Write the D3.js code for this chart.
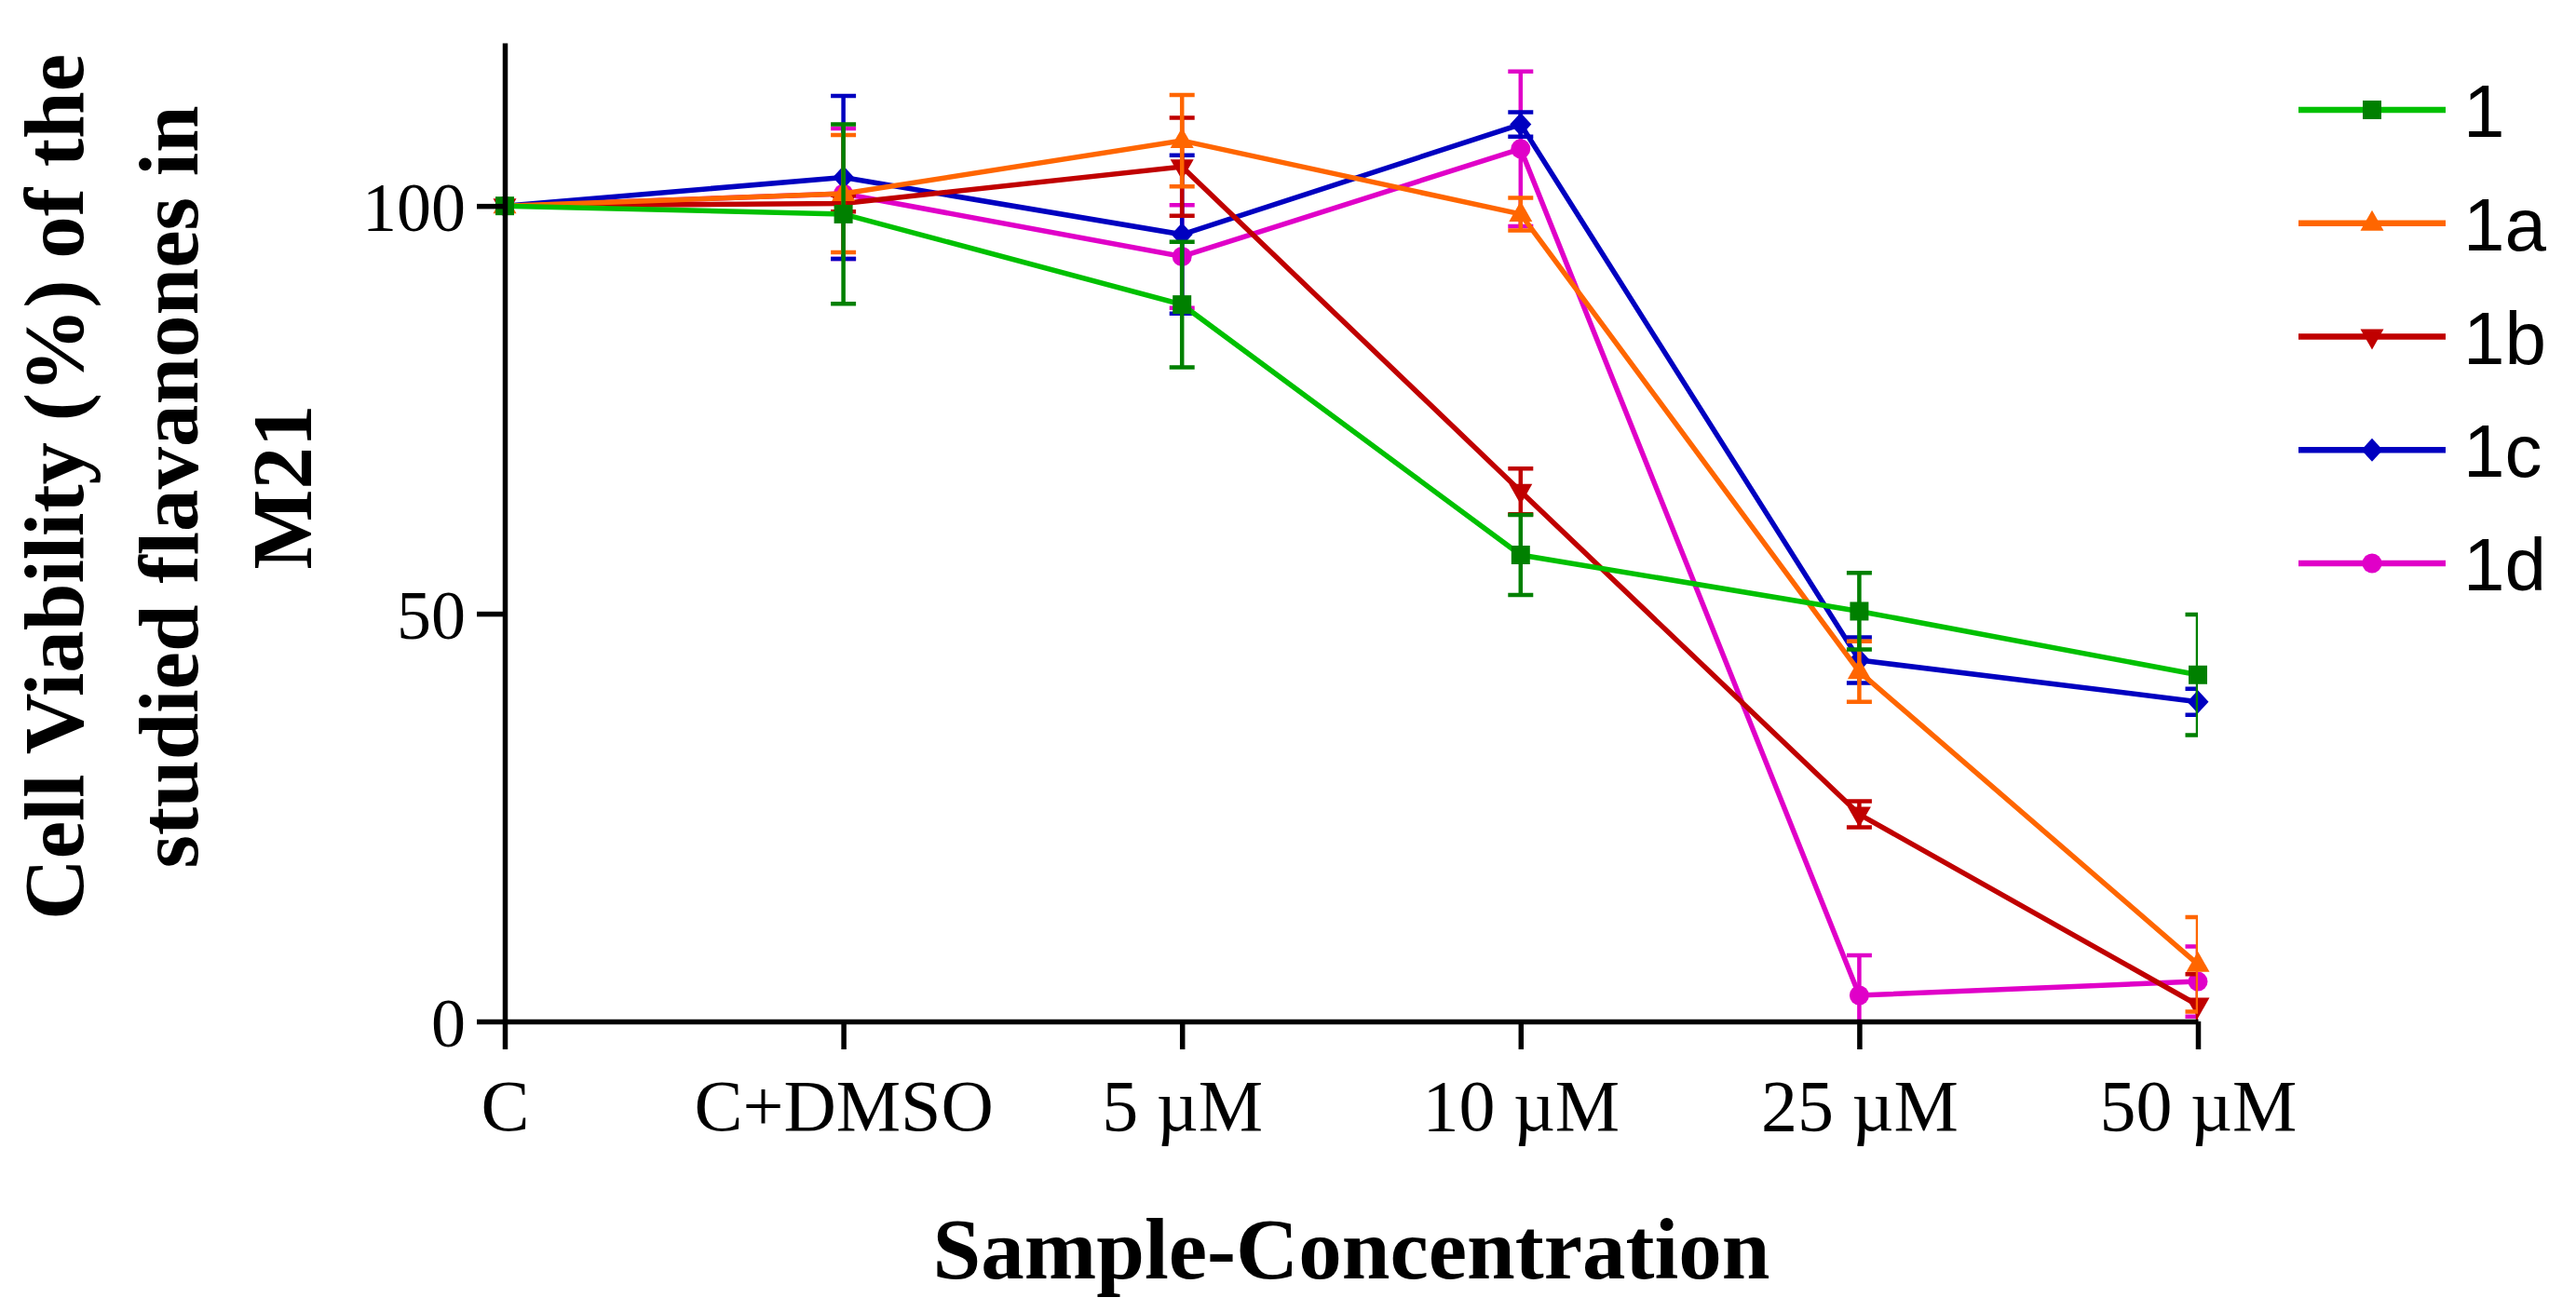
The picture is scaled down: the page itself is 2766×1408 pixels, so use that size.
<!DOCTYPE html>
<html>
<head>
<meta charset="utf-8">
<script src="https://cdn.jsdelivr.net/npm/d3@7"></script>
<style>
  html, body { margin: 0; padding: 0; background: #fff; }
  svg { display: block; }
</style>
</head>
<body>
<svg id="chart" width="2766" height="1408"></svg>
<script>
// ---------- data ----------
const categories = ["C", "C+DMSO", "5 µM", "10 µM", "25 µM", "50 µM"];
const seriesNames = ["1", "1a", "1b", "1c", "1d"];

const values1  = [100, 99.0, 87.9, 57.2, 50.3, 42.5];
const errors1  = [0, 11.0, 7.7, 4.9, 4.7, 7.4];
const values1a = [100, 101.5, 108.0, 99.0, 42.9, 7.0];
const errors1a = [0, 7.2, 5.6, 2.0, 3.7, 5.8];
const values1b = [100, 100.3, 104.8, 65.0, 25.4, 2.0];
const errors1b = [0, 1.0, 6.0, 2.8, 1.6, 3.8];
const values1c = [100, 103.5, 96.5, 110.0, 44.3, 39.2];
const errors1c = [0, 10.0, 9.7, 1.5, 2.8, 1.6];
const values1d = [100, 101.5, 93.8, 107.0, 3.2, 4.9];
const errors1d = [0, 8.0, 6.3, 9.5, 4.9, 4.3];

const yTicks = [0, 50, 100];
const yTitleLines = ["Cell Viability (%) of the", "studied flavanones in", "M21"];
const xTitle = "Sample-Concentration";

// ---------- styles ----------
const lineColors   = ["#00C000", "#FF6600", "#C00000", "#0000C0", "#E000C8"];
const markerColors = ["#008000", "#FF6600", "#C00000", "#0000C0", "#E000C8"];
const markerShapes = ["square", "triUp", "triDown", "diamond", "circle"];

const allValues = [values1, values1a, values1b, values1c, values1d];
const allErrors = [errors1, errors1a, errors1b, errors1c, errors1d];

const series = seriesNames.map((name, i) => ({
  name,
  lineColor: lineColors[i],
  markerColor: markerColors[i],
  shape: markerShapes[i],
  points: categories.map((c, j) => ({ cat: c, v: allValues[i][j], e: allErrors[i][j] }))
}));

function markerPath(shape) {
  switch (shape) {
    case "square":  return "M-10,-10H10V10H-10Z";
    case "triUp":   return "M0,-14L12.5,8L-12.5,8Z";
    case "triDown": return "M0,14L12.5,-8L-12.5,-8Z";
    case "diamond": return "M0,-12.5L11.5,0L0,12.5L-11.5,0Z";
    case "circle":  return d3.symbol(d3.symbolCircle, Math.PI * 10.5 * 10.5)();
  }
}

// ---------- scales ----------
const svg = d3.select("#chart");
const x = d3.scalePoint().domain(categories).range([542, 2360]).padding(0);
const y = d3.scaleLinear().domain([0, 120]).range([1097, 46]);

// clip for error bars (clipped at the last category and at y = 0)
svg.append("defs").append("clipPath").attr("id", "errClip")
  .append("rect").attr("x", 0).attr("y", 0)
  .attr("width", x(categories[categories.length - 1])).attr("height", y(0));

// ---------- data layers (last series drawn first) ----------
const line = d3.line().x(d => x(d.cat)).y(d => y(d.v));
const capHalf = 13.5;

[...series].reverse().forEach(s => {
  const g = svg.append("g");
  g.append("path")
    .datum(s.points)
    .attr("d", line)
    .attr("fill", "none")
    .attr("stroke", s.lineColor)
    .attr("stroke-width", 5.5)
    .attr("stroke-linejoin", "miter");

  const eg = g.append("g").attr("clip-path", "url(#errClip)")
    .attr("stroke", s.markerColor).attr("stroke-width", 4.5).attr("fill", "none");
  const withErr = s.points.filter(p => p.e > 0);
  eg.selectAll("path.err").data(withErr).enter().append("path")
    .attr("class", "err")
    .attr("d", p => {
      const cx = x(p.cat), t = y(p.v + p.e), b = y(p.v - p.e);
      return `M${cx},${t}V${b}M${cx - capHalf},${t}H${cx + capHalf}M${cx - capHalf},${b}H${cx + capHalf}`;
    });

  g.selectAll("path.mk").data(s.points).enter().append("path")
    .attr("class", "mk")
    .attr("transform", p => `translate(${x(p.cat)},${y(p.v)})`)
    .attr("d", markerPath(s.shape))
    .attr("fill", s.markerColor);
});

// ---------- axes ----------
const yAxis = d3.axisLeft(y).tickValues(yTicks).tickSize(30).tickSizeOuter(0).tickPadding(12);
const yG = svg.append("g").attr("transform", `translate(${x(categories[0])},0)`).call(yAxis);
yG.select(".domain").attr("stroke", "#000").attr("stroke-width", 5.5);
yG.selectAll(".tick line").attr("stroke", "#000").attr("stroke-width", 5.5);
yG.selectAll(".tick text")
  .attr("font-family", "'Liberation Serif', 'Times New Roman', serif")
  .attr("font-size", 74).attr("fill", "#000").attr("dy", "0.36em");

const xAxis = d3.axisBottom(x).tickSize(30).tickSizeOuter(0).tickPadding(0);
const xG = svg.append("g").attr("transform", `translate(0,${y(0)})`).call(xAxis);
xG.select(".domain").attr("stroke", "#000").attr("stroke-width", 5.5);
xG.selectAll(".tick line").attr("stroke", "#000").attr("stroke-width", 5.5);
xG.selectAll(".tick text")
  .attr("font-family", "'Liberation Serif', 'Times New Roman', serif")
  .attr("font-size", 78).attr("fill", "#000")
  .attr("y", 117).attr("dy", 0);

// ---------- titles ----------
const yTitleBase = [89, 212, 334];
yTitleLines.forEach((t, i) => {
  svg.append("text")
    .attr("transform", `translate(${yTitleBase[i]},523) rotate(-90)`)
    .attr("text-anchor", "middle")
    .attr("font-family", "'Liberation Serif', 'Times New Roman', serif")
    .attr("font-weight", "bold")
    .attr("font-size", 91)
    .attr("fill", "#000")
    .text(t);
});

svg.append("text")
  .attr("x", (x.range()[0] + x.range()[1]) / 2)
  .attr("y", 1373)
  .attr("text-anchor", "middle")
  .attr("font-family", "'Liberation Serif', 'Times New Roman', serif")
  .attr("font-weight", "bold")
  .attr("font-size", 93)
  .attr("fill", "#000")
  .text(xTitle);

// ---------- legend ----------
const legendRowY = d3.scalePoint().domain(seriesNames).range([118, 605]);
const lg = svg.append("g");
series.forEach(s => {
  const ry = legendRowY(s.name);
  lg.append("line")
    .attr("x1", 2468).attr("x2", 2626).attr("y1", ry).attr("y2", ry)
    .attr("stroke", s.lineColor).attr("stroke-width", 6.5);
  lg.append("path")
    .attr("transform", `translate(2547,${ry})`)
    .attr("d", markerPath(s.shape))
    .attr("fill", s.markerColor);
  lg.append("text")
    .attr("x", 2645).attr("y", ry + 29)
    .attr("font-family", "'Liberation Sans', Arial, sans-serif")
    .attr("font-size", 80)
    .attr("fill", "#000")
    .text(s.name);
});
</script>
</body>
</html>
